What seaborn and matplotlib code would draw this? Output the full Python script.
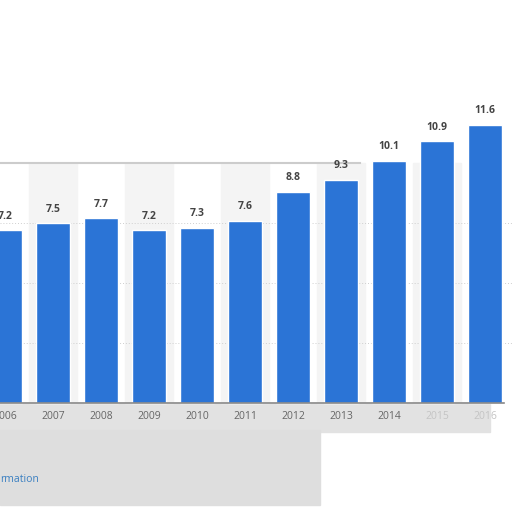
import matplotlib
matplotlib.use("Agg")
import matplotlib.pyplot as plt
import seaborn as sns
import pandas as pd
from matplotlib.patches import Rectangle

years = ["2006", "2007", "2008", "2009", "2010", "2011", "2012", "2013", "2014", "2015", "2016"]
values = [7.2, 7.5, 7.7, 7.2, 7.3, 7.6, 8.8, 9.3, 10.1, 10.9, 11.6]

df = pd.DataFrame({"year": years, "value": values})

sns.set_theme(style="white")
plt.rcParams["font.family"] = ["Open Sans", "DejaVu Sans"]

fig = plt.figure(figsize=(5.12, 5.12), dpi=100)

# grey smudge under the chart (drawn behind the axes)
fig.patches.append(Rectangle((0, 1 - 432 / 512), 490 / 512, 28 / 512,
                             transform=fig.transFigure, color="#e2e2e2", zorder=-1))
fig.patches.append(Rectangle((0, 1 - 505 / 512), 320 / 512, 75 / 512,
                             transform=fig.transFigure, color="#dedede", zorder=-1))

ax = fig.add_axes([0, 1 - 403 / 512, 1, 240 / 512])
ax.set_zorder(1)
ax.set_facecolor("white")

# alternating column bands
for i in range(len(years)):
    if i % 2 == 1:
        ax.axvspan(i - 0.5, i + 0.5, color="#f4f4f4", zorder=0)

for g in [2.5, 5.0, 7.5]:
    ax.axhline(g, color="#cfcfcf", lw=0.7, ls=(0, (1, 2)), zorder=0.5)

sns.barplot(data=df, x="year", y="value", color="#2b74d6", width=0.69,
            saturation=1, ax=ax, zorder=2)
for p in ax.patches:
    p.set_clip_on(False)

for i, v in enumerate(values):
    ax.text(i, v + 0.35, f"{v}", ha="center", va="bottom", fontsize=7.5,
            fontweight="bold", color="#444444", clip_on=False)

ax.set_xlim(-0.104, 10.5625)
ax.set_ylim(0, 10)
ax.set_xlabel("")
ax.set_ylabel("")
ax.set_yticks([])
ax.tick_params(axis="x", length=0, pad=6, labelsize=7.5, labelcolor="#666666")
for lbl in ax.get_xticklabels()[9:]:
    lbl.set_color("#c4c4c4")

for s in ["left", "right"]:
    ax.spines[s].set_visible(False)
ax.spines["top"].set_color("#cccccc")
ax.spines["top"].set_linewidth(1.5)
ax.spines["top"].set_bounds(-0.104, 7.4)
ax.spines["bottom"].set_color("#888888")
ax.spines["bottom"].set_linewidth(1.2)
ax.spines["bottom"].set_bounds(-0.104, 10.4)

fig.text(0, 1 - 479 / 512, "rmation", color="#3a7fc1", fontsize=7.5,
         ha="left", va="center")

fig.savefig("out.png", dpi=100)
